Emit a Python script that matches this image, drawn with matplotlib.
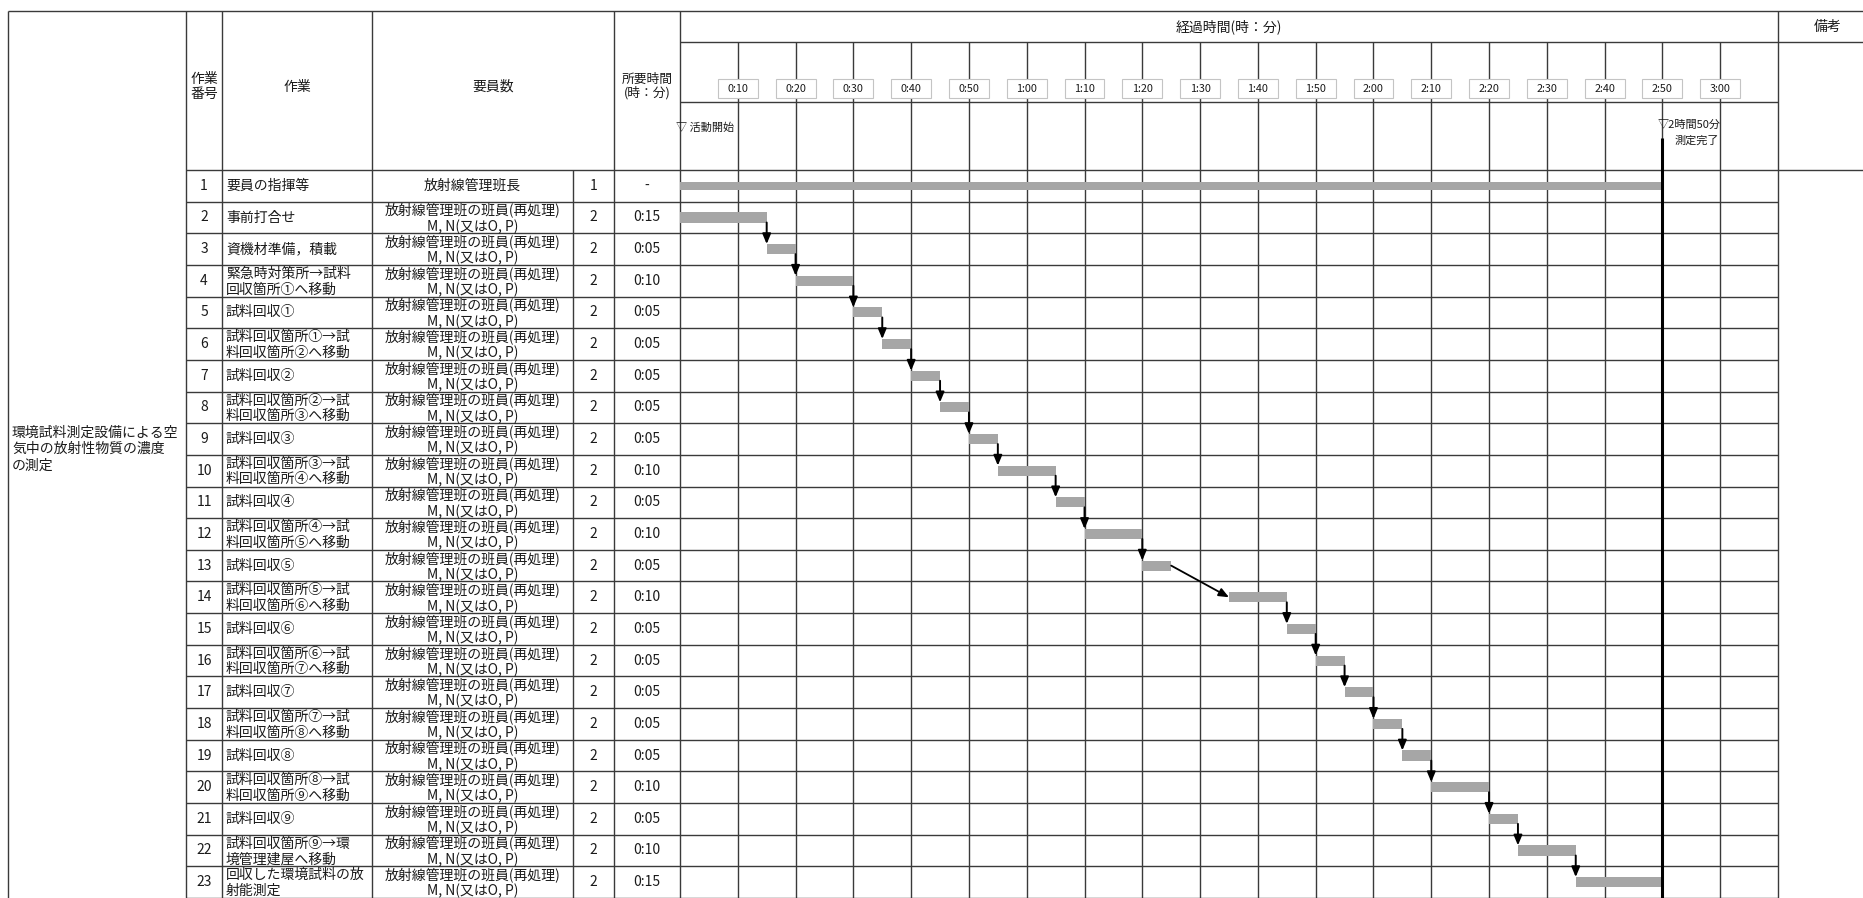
import matplotlib
matplotlib.use("Agg")
import matplotlib.pyplot as plt
from matplotlib.patches import Rectangle

plt.rcParams['font.family'] = ['Noto Sans CJK JP', 'DejaVu Sans']

# ---------------- data ----------------
task_no = list(range(1, 24))
task_names = [
    "要員の指揮等", "事前打合せ", "資機材準備，積載",
    "緊急時対策所→試料\n回収箇所①へ移動", "試料回収①",
    "試料回収箇所①→試\n料回収箇所②へ移動", "試料回収②",
    "試料回収箇所②→試\n料回収箇所③へ移動", "試料回収③",
    "試料回収箇所③→試\n料回収箇所④へ移動", "試料回収④",
    "試料回収箇所④→試\n料回収箇所⑤へ移動", "試料回収⑤",
    "試料回収箇所⑤→試\n料回収箇所⑥へ移動", "試料回収⑥",
    "試料回収箇所⑥→試\n料回収箇所⑦へ移動", "試料回収⑦",
    "試料回収箇所⑦→試\n料回収箇所⑧へ移動", "試料回収⑧",
    "試料回収箇所⑧→試\n料回収箇所⑨へ移動", "試料回収⑨",
    "試料回収箇所⑨→環\n境管理建屋へ移動", "回収した環境試料の放\n射能測定",
]
staff_line1 = ["放射線管理班長"] + ["放射線管理班の班員(再処理)"] * 22
staff_line2 = [""] + ["M, N(又はO, P)"] * 22
staff_count = [1] + [2] * 22
duration_labels = ["-", "0:15", "0:05", "0:10", "0:05", "0:05", "0:05", "0:05",
                   "0:05", "0:10", "0:05", "0:10", "0:05", "0:10", "0:05", "0:05",
                   "0:05", "0:05", "0:05", "0:10", "0:05", "0:10", "0:15"]
start_min = [0, 0, 15, 20, 30, 35, 40, 45, 50, 55, 65, 70, 80, 95, 105, 110,
             115, 120, 125, 130, 140, 145, 155]
dur_min = [170, 15, 5, 10, 5, 5, 5, 5, 5, 10, 5, 10, 5, 10, 5, 5, 5, 5, 5, 10,
           5, 10, 15]
tick_min = [10, 20, 30, 40, 50, 60, 70, 80, 90, 100, 110, 120, 130, 140, 150,
            160, 170, 180]
tick_labels = ["0:10", "0:20", "0:30", "0:40", "0:50", "1:00", "1:10", "1:20",
               "1:30", "1:40", "1:50", "2:00", "2:10", "2:20", "2:30", "2:40",
               "2:50", "3:00"]
group_label = "環境試料測定設備による空\n気中の放射性物質の濃度\nの測定"
finish_min = 170
time_max = 190

# ---------------- layout (pixels) ----------------
W, H = 1863, 898
DPI = 100
X_LEFT, X_NO, X_TASK, X_STAFF, X_CNT, X_DUR, X_T0, X_T1 = 8, 186, 222, 372, 573, 614, 680, 1778
Y_TOP, Y_H1, Y_H2, Y_HB = 11, 42, 102, 170
RH = 31.65
LC = '#3a3a3a'
LW = 1.0
FS = 10
TXT = '#1a1a1a'

fig = plt.figure(figsize=(W / DPI, H / DPI), dpi=DPI)
fig.patch.set_facecolor('white')
tab = fig.add_axes([0, 0, 1, 1])
tab.set_xlim(0, W)
tab.set_ylim(H, 0)
tab.axis('off')

n = len(task_no)
def row_top(i):  # i: 0-based
    return Y_HB + i * RH

# table lines
tab.hlines(Y_TOP, X_LEFT, W, color=LC, lw=LW)
tab.hlines(Y_H1, X_T0, W, color=LC, lw=LW)
tab.hlines(Y_H2, X_T0, X_T1, color=LC, lw=LW)
tab.hlines(Y_HB, X_NO, W, color=LC, lw=LW)
for i in range(1, n + 1):
    tab.hlines(row_top(i), X_NO, X_T1, color=LC, lw=LW)
for x in [X_LEFT, X_NO, X_TASK, X_STAFF, X_DUR, X_T0, X_T1]:
    tab.vlines(x, Y_TOP, H, color=LC, lw=LW)
tab.vlines(X_CNT, Y_HB, H, color=LC, lw=LW)

# header texts
yc = (Y_TOP + Y_HB) / 2 - 4
tab.text((X_NO + X_TASK) / 2, yc, "作業\n番号", ha='center', va='center', fontsize=FS, linespacing=1.05, color=TXT)
tab.text((X_TASK + X_STAFF) / 2, yc, "作業", ha='center', va='center', fontsize=FS, color=TXT)
tab.text((X_STAFF + X_DUR) / 2, yc, "要員数", ha='center', va='center', fontsize=FS, color=TXT)
tab.text((X_DUR + X_T0) / 2, yc, "所要時間\n(時：分)", ha='center', va='center', fontsize=9.2, linespacing=1.0, color=TXT)
tab.text((X_T0 + X_T1) / 2, (Y_TOP + Y_H1) / 2, "経過時間(時：分)", ha='center', va='center', fontsize=FS, color=TXT)
tab.text(1828, (Y_TOP + Y_H1) / 2, "備考", ha='center', va='center', fontsize=FS, color=TXT)
tab.text(X_T0 - 4, 128, "▽ 活動開始", ha='left', va='center', fontsize=8, color=TXT)
tab.text(X_LEFT + 4, 449, group_label, ha='left', va='center', fontsize=FS, linespacing=1.25, color=TXT)

# body texts
for i in range(n):
    top = row_top(i)
    cy = top + RH / 2
    tab.text((X_NO + X_TASK) / 2, cy, str(task_no[i]), ha='center', va='center', fontsize=FS, color=TXT)
    name = task_names[i]
    if "\n" in name:
        l1, l2 = name.split("\n")
        tab.text(X_TASK + 4, top + 9, l1, ha='left', va='center', fontsize=FS, color=TXT)
        tab.text(X_TASK + 4, top + 24.5, l2, ha='left', va='center', fontsize=FS, color=TXT)
    else:
        tab.text(X_TASK + 4, cy, name, ha='left', va='center', fontsize=FS, color=TXT)
    if staff_line2[i]:
        tab.text((X_STAFF + X_CNT) / 2, top + 8.5, staff_line1[i], ha='center', va='center', fontsize=FS, color=TXT)
        tab.text((X_STAFF + X_CNT) / 2, top + 25, staff_line2[i], ha='center', va='center', fontsize=FS, color=TXT)
    else:
        tab.text((X_STAFF + X_CNT) / 2, cy, staff_line1[i], ha='center', va='center', fontsize=FS, color=TXT)
    tab.text((X_CNT + X_DUR) / 2, cy, str(staff_count[i]), ha='center', va='center', fontsize=FS, color=TXT)
    tab.text((X_DUR + X_T0) / 2, cy, duration_labels[i], ha='center', va='center', fontsize=FS, color=TXT)

# ---------------- gantt axes ----------------
gx = fig.add_axes([X_T0 / W, 0, (X_T1 - X_T0) / W, (H - Y_TOP) / H])
gx.patch.set_alpha(0)
gx.axis('off')
def r(py):
    return 0.5 + (py - Y_HB) / RH
gx.set_xlim(0, time_max)
gx.set_ylim(r(H), r(Y_TOP))

gx.vlines(tick_min, r(Y_H1), r(H), color=LC, lw=LW, zorder=1)
for t, lab in zip(tick_min, tick_labels):
    gx.add_patch(Rectangle((t - 3.45, r(79)), 6.9, r(98) - r(79), facecolor='white',
                           edgecolor='#c4c4c4', lw=0.8, zorder=2))
    gx.text(t, r(88.5), lab, ha='center', va='center', fontsize=7.8, color=TXT, zorder=3)

rows = task_no
heights = [0.24] + [0.32] * (n - 1)
gx.barh(rows, dur_min, left=start_min, height=heights, color='#a6a6a6', zorder=3)

# dependency arrows
for i in range(1, n - 1):
    end = start_min[i] + dur_min[i]
    nxt = start_min[i + 1]
    if nxt == end:
        gx.annotate('', xy=(end, rows[i + 1] - heights[i + 1] / 2), xytext=(end, rows[i] + heights[i] / 2),
                    arrowprops=dict(arrowstyle='-|>,head_length=0.6,head_width=0.25', color='black', lw=1.4,
                                    mutation_scale=10, shrinkA=0, shrinkB=0), zorder=4)
    else:
        gx.annotate('', xy=(nxt, rows[i + 1]), xytext=(end, rows[i]),
                    arrowprops=dict(arrowstyle='-|>,head_length=0.6,head_width=0.25', color='black', lw=1.3,
                                    mutation_scale=10, shrinkA=0, shrinkB=0), zorder=4)

# finish line
gx.vlines(finish_min, r(138), r(H), color='black', lw=2.2, zorder=5)
gx.annotate('▽2時間50分', xy=(finish_min, r(125)), xytext=(-3.5, 0), textcoords='offset points',
            ha='left', va='center', fontsize=8, color=TXT)
gx.annotate('測定完了', xy=(finish_min, r(141)), xytext=(8.5, 0), textcoords='offset points',
            ha='left', va='center', fontsize=8, color=TXT)

fig.savefig('out.png', dpi=DPI, facecolor='white')
